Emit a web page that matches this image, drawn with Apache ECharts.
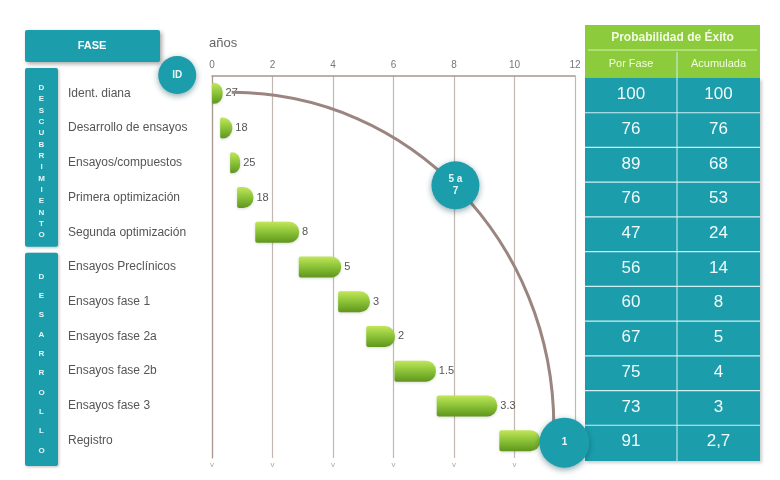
<!DOCTYPE html>
<html><head><meta charset="utf-8">
<script src="https://cdn.jsdelivr.net/npm/echarts@6/dist/echarts.min.js"></script>
<style>html,body{margin:0;padding:0;background:#fff}#c{width:780px;height:480px}</style>
</head><body><div id="c"></div>
<script>
const categories = ['Ident. diana','Desarrollo de ensayos','Ensayos/compuestos','Primera optimización','Segunda optimización','Ensayos Preclínicos','Ensayos fase 1','Ensayos fase 2a','Ensayos fase 2b','Ensayos fase 3','Registro'];
const startYears = [0, 0.27, 0.6, 0.83, 1.43, 2.87, 4.17, 5.1, 6.03, 7.43, 9.5];
const durationYears = [0.35, 0.4, 0.33, 0.54, 1.45, 1.4, 1.05, 0.95, 1.37, 2.0, 1.35];
const barLabels = ['27','18','25','18','8','5','3','2','1.5','3.3',''];
const xTicks = [0,2,4,6,8,10,12];
const probFase = ['100','76','89','76','47','56','60','67','75','73','91'];
const probAcum = ['100','76','68','53','24','14','8','5','4','3','2,7'];
const phaseNames = ['DESCUBRIMIENTO','DESARROLLO'];
const circleTexts = ['ID','5 a\n7','1'];

const chart = echarts.init(document.getElementById('c'));
const teal = '#1c9dab';
const gridColor = '#c4b7b2';
const green = new echarts.graphic.LinearGradient(0,0,0,1,[
  {offset:0,color:'#c2e65a'},{offset:0.45,color:'#8fc63a'},{offset:1,color:'#5f961d'}]);

chart.setOption({
  animation:false,
  backgroundColor:'#fff',
  grid:{left:212,right:205,top:76,bottom:22},
  xAxis:[{
    type:'value',position:'top',min:0,max:12,interval:2,
    axisLine:{show:true,lineStyle:{color:'#a8968f',width:1.5}},
    axisTick:{show:false},
    axisLabel:{color:'#777',fontSize:10,margin:6,fontFamily:'Liberation Sans'},
    splitLine:{show:true,lineStyle:{color:gridColor,width:1.2}}
  },{
    type:'value',position:'bottom',min:0,max:12,interval:2,
    axisLine:{show:false},axisTick:{show:false},splitLine:{show:false},
    axisLabel:{color:'#aaa',fontSize:8,margin:3,formatter:v=>v<12?'v':''}
  }],
  yAxis:{
    type:'category',data:categories,inverse:true,
    axisLine:{show:true,lineStyle:{color:'#a8968f',width:1.2}},
    axisTick:{show:false},
    axisLabel:{align:'left',margin:144,color:'#555',fontSize:12,fontFamily:'Liberation Sans'}
  },
  series:[{
    type:'bar',stack:'g',data:startYears,barWidth:21,
    itemStyle:{color:'transparent'},silent:true
  },{
    type:'bar',stack:'g',data:durationYears,barWidth:21,
    itemStyle:{color:green,borderRadius:[2,10,10,2],shadowColor:'rgba(0,0,0,0.15)',shadowBlur:3,shadowOffsetY:1},
    label:{show:true,position:'right',distance:3,color:'#555',fontSize:11,
      formatter:p=>barLabels[p.dataIndex]}
  }]
});

function build(){
  const yPix = categories.map((c,i)=>chart.convertToPixel({yAxisIndex:0},c));
  const band = yPix[1]-yPix[0];
  const g = [];
  g.push({type:'rect',shape:{x:25,y:30,width:135,height:32,r:2},style:{fill:teal,shadowColor:'rgba(0,0,0,0.35)',shadowBlur:4,shadowOffsetX:2,shadowOffsetY:2}});
  g.push({type:'text',style:{text:'FASE',x:92,y:46,fill:'#fff',fontSize:11,fontWeight:'bold',align:'center',verticalAlign:'middle'}});
  const seg = [[0,4],[5,10]];
  seg.forEach((s,k)=>{
    const y0 = yPix[s[0]]-band/2 - (k===0?8:-3);
    const y1 = yPix[s[1]]+band/2 + (k===0?-3:8);
    g.push({type:'rect',shape:{x:25,y:y0,width:33,height:y1-y0,r:2},style:{fill:teal,shadowColor:'rgba(0,0,0,0.25)',shadowBlur:3,shadowOffsetX:1,shadowOffsetY:1}});
    const letters = phaseNames[k].split('');
    const step = (y1-y0-20)/letters.length;
    letters.forEach((ch,j)=>{
      g.push({type:'text',style:{text:ch,x:41.5,y:y0+14+step*(j+0.5),fill:'#e6f6f8',fontSize:8,fontWeight:'bold',align:'center',verticalAlign:'middle'}});
    });
  });
  g.push({type:'text',style:{text:'años',x:209,y:43,fill:'#666',fontSize:13,verticalAlign:'middle'}});
  const x0 = chart.convertToPixel({xAxisIndex:0},0.65), yA = yPix[0]-1;
  const x1 = chart.convertToPixel({xAxisIndex:0},11.3), yB = yPix[9]+band*0.6;
  const k = 0.5523;
  g.push({type:'bezierCurve',shape:{x1:x0,y1:yA,x2:x1,y2:yB,cpx1:x0+k*(x1-x0),cpy1:yA,cpx2:x1,cpy2:yB-k*(yB-yA)},
    style:{stroke:'#9b8580',lineWidth:3,fill:null},z:5});
  const circles = [
    [chart.convertToPixel({xAxisIndex:0},-1.15), 75, 19],
    [x0+0.707*(x1-x0)-4, yB-0.707*(yB-yA)-5, 24],
    [chart.convertToPixel({xAxisIndex:0},11.65), yPix[10]+2, 25]
  ];
  circles.forEach((c,i)=>{
    g.push({type:'circle',shape:{cx:c[0],cy:c[1],r:c[2]},style:{fill:teal,shadowColor:'rgba(0,60,70,0.45)',shadowBlur:6,shadowOffsetY:2},z:10});
    g.push({type:'text',style:{text:circleTexts[i],x:c[0],y:c[1],fill:'#e8f8fa',fontSize:10,fontWeight:'bold',align:'center',verticalAlign:'middle',lineHeight:12},z:11});
  });
  const tx0 = 585, tx1 = 760, tmid = 677;
  const bodyTop = yPix[0]-band/2 + 2, bodyBot = yPix[10]+band/2 + 3;
  g.push({type:'rect',shape:{x:tx0,y:25,width:tx1-tx0,height:bodyTop-25},style:{fill:'#8ccc3c'}});
  g.push({type:'rect',shape:{x:tx0,y:bodyTop,width:tx1-tx0,height:bodyBot-bodyTop},style:{fill:teal,shadowColor:'rgba(0,0,0,0.2)',shadowBlur:3,shadowOffsetX:2,shadowOffsetY:2}});
  g.push({type:'line',shape:{x1:tx0+3,y1:50,x2:tx1-3,y2:50},style:{stroke:'#d8efb0',lineWidth:1}});
  g.push({type:'text',style:{text:'Probabilidad de Éxito',x:(tx0+tx1)/2,y:38,fill:'#f2fbe0',fontSize:12,fontWeight:'bold',align:'center',verticalAlign:'middle'}});
  g.push({type:'text',style:{text:'Por Fase',x:(tx0+tmid)/2,y:64,fill:'#f2fbe0',fontSize:11,align:'center',verticalAlign:'middle'}});
  g.push({type:'text',style:{text:'Acumulada',x:(tmid+tx1)/2,y:64,fill:'#f2fbe0',fontSize:11,align:'center',verticalAlign:'middle'}});
  g.push({type:'line',shape:{x1:tmid,y1:52,x2:tmid,y2:bodyBot},style:{stroke:'#cfeff3',lineWidth:1}});
  yPix.forEach((y,i)=>{
    if(i>0) g.push({type:'line',shape:{x1:tx0,y1:y-band/2+2,x2:tx1,y2:y-band/2+2},style:{stroke:'#cfeff3',lineWidth:1.2}});
    g.push({type:'text',style:{text:probFase[i],x:(tx0+tmid)/2,y:y+1,fill:'#f0fbfc',fontSize:17,align:'center',verticalAlign:'middle',fontFamily:'Liberation Sans'}});
    g.push({type:'text',style:{text:probAcum[i],x:(tmid+tx1)/2,y:y+1,fill:'#f0fbfc',fontSize:17,align:'center',verticalAlign:'middle',fontFamily:'Liberation Sans'}});
  });
  chart.setOption({graphic:{elements:g}});
}
build();
</script></body></html>
